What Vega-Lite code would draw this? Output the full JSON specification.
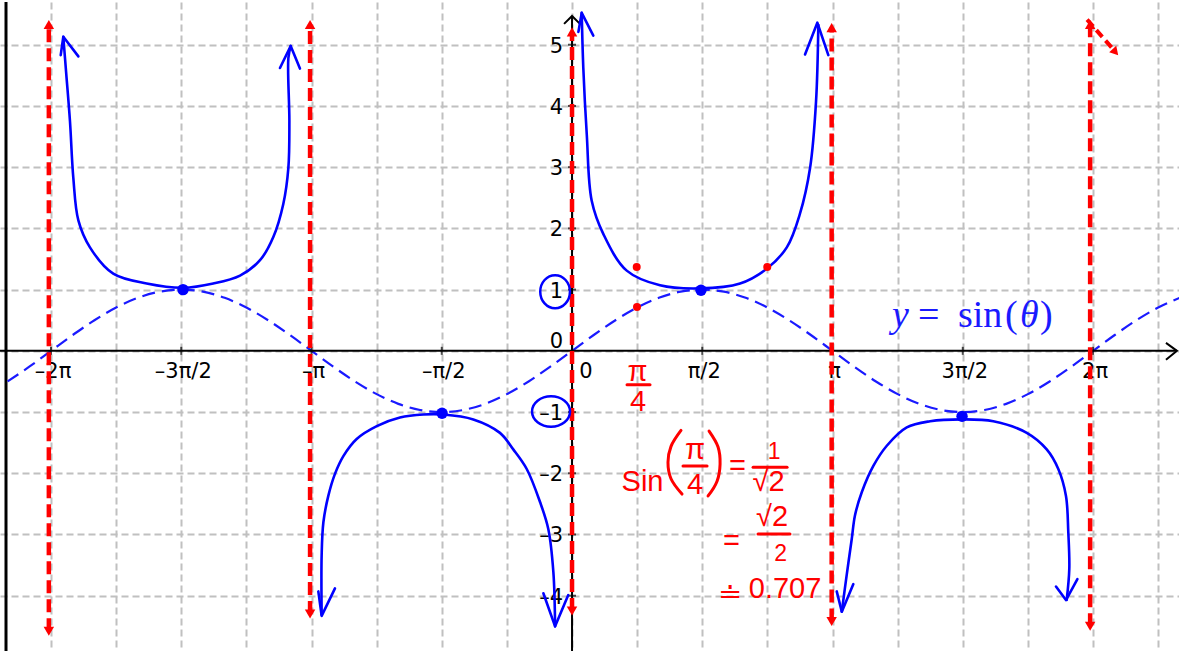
{
  "$schema": "https://vega.github.io/schema/vega-lite/v6.json",
  "width": 1179,
  "height": 653,
  "autosize": {"type": "fit", "contains": "padding"},
  "padding": 0,
  "background": "white",
  "config": {"view": {"stroke": null}},
  "datasets": {
    "sin": [
      {"x": -390, "y": -0.5}, {"x": -375, "y": -0.2588}, {"x": -360, "y": 0}, {"x": -345, "y": 0.2588},
      {"x": -330, "y": 0.5}, {"x": -315, "y": 0.7071}, {"x": -300, "y": 0.866}, {"x": -285, "y": 0.9659},
      {"x": -270, "y": 1}, {"x": -255, "y": 0.9659}, {"x": -240, "y": 0.866}, {"x": -225, "y": 0.7071},
      {"x": -210, "y": 0.5}, {"x": -195, "y": 0.2588}, {"x": -180, "y": 0}, {"x": -165, "y": -0.2588},
      {"x": -150, "y": -0.5}, {"x": -135, "y": -0.7071}, {"x": -120, "y": -0.866}, {"x": -105, "y": -0.9659},
      {"x": -90, "y": -1}, {"x": -75, "y": -0.9659}, {"x": -60, "y": -0.866}, {"x": -45, "y": -0.7071},
      {"x": -30, "y": -0.5}, {"x": -15, "y": -0.2588}, {"x": 0, "y": 0}, {"x": 15, "y": 0.2588},
      {"x": 30, "y": 0.5}, {"x": 45, "y": 0.7071}, {"x": 60, "y": 0.866}, {"x": 75, "y": 0.9659},
      {"x": 90, "y": 1}, {"x": 105, "y": 0.9659}, {"x": 120, "y": 0.866}, {"x": 135, "y": 0.7071},
      {"x": 150, "y": 0.5}, {"x": 165, "y": 0.2588}, {"x": 180, "y": 0}, {"x": 195, "y": -0.2588},
      {"x": 210, "y": -0.5}, {"x": 225, "y": -0.7071}, {"x": 240, "y": -0.866}, {"x": 255, "y": -0.9659},
      {"x": 270, "y": -1}, {"x": 285, "y": -0.9659}, {"x": 300, "y": -0.866}, {"x": 315, "y": -0.7071},
      {"x": 330, "y": -0.5}, {"x": 345, "y": -0.2588}, {"x": 360, "y": 0}, {"x": 375, "y": 0.2588},
      {"x": 390, "y": 0.5}, {"x": 405, "y": 0.7071}, {"x": 420, "y": 0.866}
    ],
    "border": [{"x": -391.1, "y": -4.903, "y2": 5.698}],
    "blk": [
      {"seg": "xa", "ord": 1, "x": -396, "y": 0}, {"seg": "xa", "ord": 2, "x": 418, "y": 0},
      {"seg": "ya", "ord": 1, "x": 0, "y": -5}, {"seg": "ya", "ord": 2, "x": 0, "y": 5.47},
      {"seg": "xc", "ord": 1, "x": 410.4, "y": 0.13}, {"seg": "xc", "ord": 2, "x": 418, "y": 0}, {"seg": "xc", "ord": 3, "x": 410.4, "y": -0.146},
      {"seg": "yc", "ord": 1, "x": -5.5, "y": 5.34}, {"seg": "yc", "ord": 2, "x": 0, "y": 5.47}, {"seg": "yc", "ord": 3, "x": 5.5, "y": 5.34}
    ],
    "xticks": [{"x": -360, "y": 0}, {"x": -270, "y": 0}, {"x": -180, "y": 0}, {"x": -90, "y": 0}, {"x": 90, "y": 0}, {"x": 180, "y": 0}, {"x": 270, "y": 0}, {"x": 360, "y": 0}],
    "yticks": [{"x": 0, "y": -4}, {"x": 0, "y": -3}, {"x": 0, "y": -2}, {"x": 0, "y": -1}, {"x": 0, "y": 1}, {"x": 0, "y": 2}, {"x": 0, "y": 3}, {"x": 0, "y": 4}, {"x": 0, "y": 5}],
    "xlab": [
      {"x": -360, "y": 0, "label": "–2π"}, {"x": -270, "y": 0, "label": "–3π/2"}, {"x": -180, "y": 0, "label": "–π"}, {"x": -90, "y": 0, "label": "–π/2"},
      {"x": 8.3, "y": 0, "label": "0"}, {"x": 90, "y": 0, "label": "π/2"}, {"x": 180, "y": 0, "label": "π"}, {"x": 270, "y": 0, "label": "3π/2"}, {"x": 360, "y": 0, "label": "2π"}
    ],
    "ylab": [
      {"x": 0, "y": -4, "label": "–4"}, {"x": 0, "y": -3, "label": "–3"}, {"x": 0, "y": -2, "label": "–2"}, {"x": 0, "y": -1, "label": "–1"},
      {"x": 0, "y": 0.18, "label": "0"}, {"x": 0, "y": 1, "label": "1"}, {"x": 0, "y": 2, "label": "2"}, {"x": 0, "y": 3, "label": "3"}, {"x": 0, "y": 4, "label": "4"}, {"x": 0, "y": 5, "label": "5"}
    ],
    "asym": [
      {"x": -361.5, "y": -4.58, "y2": 5.33}, {"x": -181, "y": -4.3, "y2": 5.33}, {"x": 0, "y": -4.25, "y2": 5.21},
      {"x": 179.4, "y": -4.42, "y2": 5.28}, {"x": 358, "y": -4.5, "y2": 5.33}
    ],
    "asymUp": [{"x": -361.5, "y": 5.33}, {"x": -181, "y": 5.33}, {"x": 0, "y": 5.21}, {"x": 179.4, "y": 5.28}, {"x": 358, "y": 5.33}],
    "asymDown": [{"x": -361.5, "y": -4.58}, {"x": -181, "y": -4.3}, {"x": 0, "y": -4.25}, {"x": 179.4, "y": -4.42}, {"x": 358, "y": -4.5}],
    "diag": [{"ord": 1, "x": 355.9, "y": 5.41}, {"ord": 2, "x": 374.5, "y": 4.91}],
    "diagHead": [{"x": 375.5, "y": 4.88}],
    "csc": [
      {"seg": "a", "ord": 1, "x": -351.5, "y": 5.13}, {"seg": "a", "ord": 2, "x": -349.6, "y": 4.56}, {"seg": "a", "ord": 3, "x": -346.9, "y": 3.75},
      {"seg": "a", "ord": 4, "x": -344.6, "y": 2.83}, {"seg": "a", "ord": 5, "x": -341.1, "y": 2.13}, {"seg": "a", "ord": 6, "x": -333.1, "y": 1.69},
      {"seg": "a", "ord": 7, "x": -317.0, "y": 1.26}, {"seg": "a", "ord": 8, "x": -293.9, "y": 1.1}, {"seg": "a", "ord": 9, "x": -268.6, "y": 1.03},
      {"seg": "a", "ord": 10, "x": -247.9, "y": 1.1}, {"seg": "a", "ord": 11, "x": -229.4, "y": 1.23}, {"seg": "a", "ord": 12, "x": -215.6, "y": 1.48},
      {"seg": "a", "ord": 13, "x": -206.4, "y": 1.86}, {"seg": "a", "ord": 14, "x": -199.5, "y": 2.4}, {"seg": "a", "ord": 15, "x": -196.0, "y": 2.99},
      {"seg": "a", "ord": 16, "x": -195.3, "y": 3.75}, {"seg": "a", "ord": 17, "x": -196.0, "y": 4.78}, {"seg": "a", "ord": 18, "x": -194.4, "y": 4.98},
      {"seg": "b", "ord": 1, "x": -173.0, "y": -4.31}, {"seg": "b", "ord": 2, "x": -173.0, "y": -3.34}, {"seg": "b", "ord": 3, "x": -171.8, "y": -2.8},
      {"seg": "b", "ord": 4, "x": -168.4, "y": -2.37}, {"seg": "b", "ord": 5, "x": -163.8, "y": -2.01}, {"seg": "b", "ord": 6, "x": -158.0, "y": -1.72},
      {"seg": "b", "ord": 7, "x": -148.8, "y": -1.44}, {"seg": "b", "ord": 8, "x": -134.9, "y": -1.23}, {"seg": "b", "ord": 9, "x": -118.9, "y": -1.09},
      {"seg": "b", "ord": 10, "x": -102.7, "y": -1.04}, {"seg": "b", "ord": 11, "x": -88.9, "y": -1.04}, {"seg": "b", "ord": 12, "x": -68.2, "y": -1.12},
      {"seg": "b", "ord": 13, "x": -49.8, "y": -1.34}, {"seg": "b", "ord": 14, "x": -40.6, "y": -1.61}, {"seg": "b", "ord": 15, "x": -31.3, "y": -1.93},
      {"seg": "b", "ord": 16, "x": -22.1, "y": -2.47}, {"seg": "b", "ord": 17, "x": -16.4, "y": -2.91}, {"seg": "b", "ord": 18, "x": -12.9, "y": -3.61},
      {"seg": "b", "ord": 19, "x": -11.7, "y": -4.5},
      {"seg": "c", "ord": 1, "x": 6.7, "y": 5.52}, {"seg": "c", "ord": 2, "x": 7.8, "y": 4.62}, {"seg": "c", "ord": 3, "x": 10.2, "y": 3.53},
      {"seg": "c", "ord": 4, "x": 13.6, "y": 2.45}, {"seg": "c", "ord": 5, "x": 21.6, "y": 1.91}, {"seg": "c", "ord": 6, "x": 37.8, "y": 1.31},
      {"seg": "c", "ord": 7, "x": 60.8, "y": 1.07}, {"seg": "c", "ord": 8, "x": 88.4, "y": 1.02}, {"seg": "c", "ord": 9, "x": 116.1, "y": 1.1},
      {"seg": "c", "ord": 10, "x": 134.5, "y": 1.34}, {"seg": "c", "ord": 11, "x": 148.4, "y": 1.69}, {"seg": "c", "ord": 12, "x": 157.5, "y": 2.24},
      {"seg": "c", "ord": 13, "x": 164.5, "y": 2.99}, {"seg": "c", "ord": 14, "x": 168.6, "y": 4.07}, {"seg": "c", "ord": 15, "x": 170.2, "y": 5.32},
      {"seg": "d", "ord": 1, "x": 186.4, "y": -4.26}, {"seg": "d", "ord": 2, "x": 189.8, "y": -3.66}, {"seg": "d", "ord": 3, "x": 193.3, "y": -3.07},
      {"seg": "d", "ord": 4, "x": 195.5, "y": -2.69}, {"seg": "d", "ord": 5, "x": 200.2, "y": -2.31}, {"seg": "d", "ord": 6, "x": 208.2, "y": -1.88},
      {"seg": "d", "ord": 7, "x": 217.5, "y": -1.55}, {"seg": "d", "ord": 8, "x": 231.3, "y": -1.25}, {"seg": "d", "ord": 9, "x": 247.4, "y": -1.15},
      {"seg": "d", "ord": 10, "x": 269.3, "y": -1.12}, {"seg": "d", "ord": 11, "x": 291.1, "y": -1.15}, {"seg": "d", "ord": 12, "x": 314.2, "y": -1.34},
      {"seg": "d", "ord": 13, "x": 328.0, "y": -1.61}, {"seg": "d", "ord": 14, "x": 336.0, "y": -1.93}, {"seg": "d", "ord": 15, "x": 341.3, "y": -2.37},
      {"seg": "d", "ord": 16, "x": 342.9, "y": -2.96}, {"seg": "d", "ord": 17, "x": 343.6, "y": -3.56}, {"seg": "d", "ord": 18, "x": 341.8, "y": -4.07}
    ],
    "arrows": [
      {"seg": "a1", "ord": 1, "x": -353.3, "y": 4.83}, {"seg": "a1", "ord": 2, "x": -351.5, "y": 5.13}, {"seg": "a1", "ord": 3, "x": -341.1, "y": 4.81},
      {"seg": "a2", "ord": 1, "x": -201.8, "y": 4.62}, {"seg": "a2", "ord": 2, "x": -194.4, "y": 4.98}, {"seg": "a2", "ord": 3, "x": -188.0, "y": 4.61},
      {"seg": "b1", "ord": 1, "x": -175.3, "y": -3.93}, {"seg": "b1", "ord": 2, "x": -173.0, "y": -4.33}, {"seg": "b1", "ord": 3, "x": -163.8, "y": -3.88},
      {"seg": "b2", "ord": 1, "x": -19.8, "y": -3.96}, {"seg": "b2", "ord": 2, "x": -11.7, "y": -4.5}, {"seg": "b2", "ord": 3, "x": -2.6, "y": -3.99},
      {"seg": "c1", "ord": 1, "x": 4.4, "y": 5.21}, {"seg": "c1", "ord": 2, "x": 6.7, "y": 5.52}, {"seg": "c1", "ord": 3, "x": 14.7, "y": 5.15},
      {"seg": "c2", "ord": 1, "x": 161.0, "y": 4.84}, {"seg": "c2", "ord": 2, "x": 169.5, "y": 5.36}, {"seg": "c2", "ord": 3, "x": 177.1, "y": 4.83},
      {"seg": "d1", "ord": 1, "x": 182.9, "y": -3.93}, {"seg": "d1", "ord": 2, "x": 186.4, "y": -4.26}, {"seg": "d1", "ord": 3, "x": 194.4, "y": -3.81},
      {"seg": "d2", "ord": 1, "x": 334.4, "y": -3.85}, {"seg": "d2", "ord": 2, "x": 341.3, "y": -4.07}, {"seg": "d2", "ord": 3, "x": 349.2, "y": -3.73}
    ],
    "blueDots": [{"x": -268.8, "y": 1.0}, {"x": -89.8, "y": -1.02}, {"x": 89.1, "y": 0.99}, {"x": 269.5, "y": -1.07}],
    "redDots": [{"x": 44.9, "y": 0.714}, {"x": 44.7, "y": 1.37}, {"x": 134.9, "y": 1.37}],
    "circ1": [{"x": -11.7, "y": 0.966}],
    "circ2": [{"x": -14.5, "y": -0.99}],
    "formUp": [{"x": 239.1, "y": 0.394, "t": "="}, {"x": 266.7, "y": 0.394, "t": "sin"}, {"x": 299.2, "y": 0.394, "t": "("}, {"x": 323.4, "y": 0.394, "t": ")"}],
    "formIt": [{"x": 221.1, "y": 0.394, "t": "y"}, {"x": 309.6, "y": 0.394, "t": "θ"}],
    "redBig": [
      {"x": 45.3, "y": -0.5, "t": "π"}, {"x": 85.0, "y": -1.77, "t": "π"},
      {"x": 45.6, "y": -0.99, "t": "4"}, {"x": 48.7, "y": -2.29, "t": "Sin"}, {"x": 85.0, "y": -2.34, "t": "4"},
      {"x": 114.4, "y": -2.03, "t": "="}, {"x": 110.2, "y": -3.25, "t": "="}, {"x": 109.2, "y": -4.12, "t": "≐"},
      {"x": 147.2, "y": -4.04, "t": "0.707"}, {"x": 138.2, "y": -2.86, "t": "√2"}, {"x": 135.8, "y": -2.29, "t": "√2"}
    ],
    "redSmall": [
      {"x": 139.6, "y": -1.77, "t": "1"}, {"x": 144.1, "y": -3.44, "t": "2"}
    ],
    "redStrokes": [
      {"seg": "lp", "ord": 1, "x": 75.3, "y": -1.3}, {"seg": "lp", "ord": 2, "x": 68.4, "y": -1.56}, {"seg": "lp", "ord": 3, "x": 66.3, "y": -1.82},
      {"seg": "lp", "ord": 4, "x": 68.4, "y": -2.09}, {"seg": "lp", "ord": 5, "x": 76.0, "y": -2.34},
      {"seg": "rp", "ord": 1, "x": 94.7, "y": -1.31}, {"seg": "rp", "ord": 2, "x": 100.9, "y": -1.57}, {"seg": "rp", "ord": 3, "x": 102.3, "y": -1.85},
      {"seg": "rp", "ord": 4, "x": 100.2, "y": -2.13}, {"seg": "rp", "ord": 5, "x": 94.0, "y": -2.37}
    ],
    "bars": [
      {"x": 38.0, "x2": 53.9, "y": -0.552}, {"x": 76.7, "x2": 93.3, "y": -1.88},
      {"x": 125.1, "x2": 148.6, "y": -1.9}, {"x": 128.5, "x2": 150.6, "y": -2.99}
    ]
  },
  "encoding": {
    "x": {
      "field": "x", "type": "quantitative",
      "scale": {"domain": [-395.25, 419.4], "nice": false, "zero": false},
      "axis": {"values": [-360, -315, -270, -225, -180, -135, -90, -45, 0, 45, 90, 135, 180, 225, 270, 315, 360, 405],
        "grid": true, "gridColor": "#c0c0c0", "gridDash": [7, 4], "gridWidth": 2, "gridOpacity": 1,
        "labels": false, "ticks": false, "domain": false, "title": null, "minExtent": 0, "maxExtent": 0}
    },
    "y": {
      "field": "y", "type": "quantitative",
      "scale": {"domain": [-4.903, 5.698], "nice": false, "zero": false},
      "axis": {"values": [-4, -3, -2, -1, 0, 1, 2, 3, 4, 5],
        "grid": true, "gridColor": "#c0c0c0", "gridDash": [7, 4], "gridWidth": 2, "gridOpacity": 1,
        "labels": false, "ticks": false, "domain": false, "title": null, "minExtent": 0, "maxExtent": 0}
    }
  },
  "layer": [
    {
      "data": {"name": "border"},
      "mark": {"type": "rule", "color": "black", "strokeWidth": 3},
      "encoding": {"y2": {"field": "y2"}}
    },
    {
      "data": {"name": "sin"},
      "mark": {"type": "line", "color": "#1a1aff", "strokeWidth": 2.2, "strokeDash": [13, 7], "interpolate": "monotone", "clip": true},
      "encoding": {}
    },
    {
      "data": {"name": "blk"},
      "mark": {"type": "line", "color": "black", "strokeWidth": 2, "clip": true},
      "encoding": {"detail": {"field": "seg"}, "order": {"field": "ord"}}
    },
    {
      "data": {"name": "xticks"},
      "mark": {"type": "tick", "orient": "vertical", "size": 8, "thickness": 2, "color": "black"},
      "encoding": {}
    },
    {
      "data": {"name": "yticks"},
      "mark": {"type": "tick", "orient": "horizontal", "size": 8, "thickness": 2, "color": "black"},
      "encoding": {}
    },
    {
      "data": {"name": "xlab"},
      "mark": {"type": "text", "font": "DejaVu Sans", "fontSize": 21, "color": "black", "align": "center", "baseline": "alphabetic", "dy": 27, "dx": 2},
      "encoding": {"text": {"field": "label"}}
    },
    {
      "data": {"name": "ylab"},
      "mark": {"type": "text", "font": "DejaVu Sans", "fontSize": 21, "color": "black", "align": "right", "baseline": "middle", "dx": -9, "dy": 2},
      "encoding": {"text": {"field": "label"}}
    },
    {
      "data": {"name": "asym"},
      "mark": {"type": "rule", "color": "#ff0000", "strokeWidth": 4.5, "strokeDash": [13, 6]},
      "encoding": {"y2": {"field": "y2"}}
    },
    {
      "data": {"name": "asymUp"},
      "mark": {"type": "point", "shape": "triangle-up", "filled": true, "color": "#ff0000", "size": 110, "opacity": 1},
      "encoding": {}
    },
    {
      "data": {"name": "asymDown"},
      "mark": {"type": "point", "shape": "triangle-down", "filled": true, "color": "#ff0000", "size": 110, "opacity": 1},
      "encoding": {}
    },
    {
      "data": {"name": "diag"},
      "mark": {"type": "line", "color": "#ff0000", "strokeWidth": 4, "strokeDash": [9, 5]},
      "encoding": {"order": {"field": "ord"}}
    },
    {
      "data": {"name": "diagHead"},
      "mark": {"type": "point", "shape": "triangle-right", "filled": true, "color": "#ff0000", "size": 90, "angle": 48, "opacity": 1},
      "encoding": {}
    },
    {
      "data": {"name": "csc"},
      "mark": {"type": "line", "color": "#0000ff", "strokeWidth": 2.6, "interpolate": "catmull-rom", "strokeCap": "round", "clip": true},
      "encoding": {"detail": {"field": "seg"}, "order": {"field": "ord"}}
    },
    {
      "data": {"name": "arrows"},
      "mark": {"type": "line", "color": "#0000ff", "strokeWidth": 2.6, "strokeCap": "round", "strokeJoin": "round", "clip": true},
      "encoding": {"detail": {"field": "seg"}, "order": {"field": "ord"}}
    },
    {
      "data": {"name": "blueDots"},
      "mark": {"type": "point", "shape": "circle", "filled": true, "color": "#0000ff", "size": 130, "opacity": 1},
      "encoding": {}
    },
    {
      "data": {"name": "redDots"},
      "mark": {"type": "point", "shape": "circle", "filled": true, "color": "#ff0000", "size": 64, "opacity": 1},
      "encoding": {}
    },
    {
      "data": {"name": "circ1"},
      "mark": {"type": "point", "shape": "M-0.9,0A0.9,1 0 1,1 0.9,0A0.9,1 0 1,1 -0.9,0Z", "filled": false, "stroke": "#0000ff", "strokeWidth": 2.5, "size": 1089, "opacity": 1},
      "encoding": {}
    },
    {
      "data": {"name": "circ2"},
      "mark": {"type": "point", "shape": "M-1,0A1,0.8 0 1,1 1,0A1,0.8 0 1,1 -1,0Z", "filled": false, "stroke": "#0000ff", "strokeWidth": 2.5, "size": 1444, "opacity": 1},
      "encoding": {}
    },
    {
      "data": {"name": "formUp"},
      "mark": {"type": "text", "font": "Liberation Serif", "fontSize": 38, "color": "#1a1aff", "align": "left", "baseline": "alphabetic"},
      "encoding": {"text": {"field": "t"}}
    },
    {
      "data": {"name": "formIt"},
      "mark": {"type": "text", "font": "Liberation Serif", "fontStyle": "italic", "fontSize": 38, "color": "#1a1aff", "align": "left", "baseline": "alphabetic"},
      "encoding": {"text": {"field": "t"}}
    },
    {
      "data": {"name": "redBig"},
      "mark": {"type": "text", "font": "Liberation Sans", "fontSize": 29, "color": "#ff0000", "align": "center", "baseline": "alphabetic"},
      "encoding": {"text": {"field": "t"}}
    },
    {
      "data": {"name": "redSmall"},
      "mark": {"type": "text", "font": "Liberation Sans", "fontSize": 23, "color": "#ff0000", "align": "center", "baseline": "alphabetic"},
      "encoding": {"text": {"field": "t"}}
    },
    {
      "data": {"name": "redStrokes"},
      "mark": {"type": "line", "color": "#ff0000", "strokeWidth": 3, "interpolate": "catmull-rom", "strokeCap": "round"},
      "encoding": {"detail": {"field": "seg"}, "order": {"field": "ord"}}
    },
    {
      "data": {"name": "bars"},
      "mark": {"type": "rule", "color": "#ff0000", "strokeWidth": 3, "strokeCap": "round"},
      "encoding": {"x2": {"field": "x2"}}
    }
  ]
}
